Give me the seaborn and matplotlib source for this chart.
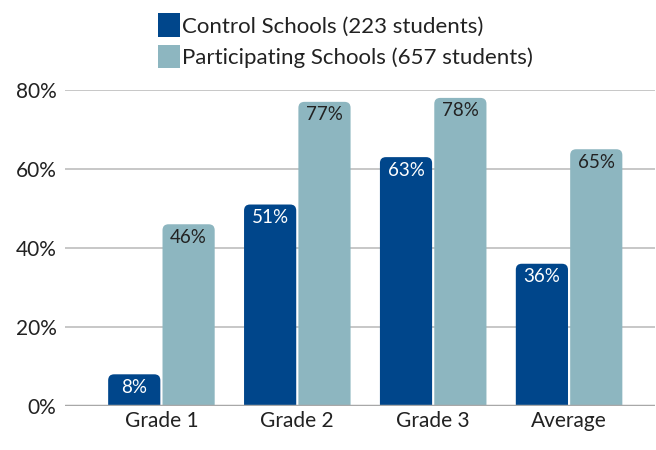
import pandas as pd
import seaborn as sns
import matplotlib.pyplot as plt
from matplotlib.patches import FancyBboxPatch, Patch

# data
grades = ["Grade 1", "Grade 2", "Grade 3", "Average"]
control = [8, 51, 63, 36]
participating = [46, 77, 78, 65]
series = ["Control Schools (223 students)", "Participating Schools (657 students)"]
colors = ["#00468b", "#8db6c0"]
text_colors = ["white", "#222222"]

df = pd.DataFrame({
    "grade": grades * 2,
    "value": control + participating,
    "group": [series[0]] * 4 + [series[1]] * 4,
})

sns.set_style("white")
plt.rcParams["font.family"] = ["Lato", "DejaVu Sans"]

fig = plt.figure(figsize=(6.56, 4.5), dpi=100)
ax = fig.add_axes([0.099, 0.098, 0.899, 0.702])

sns.barplot(data=df, x="grade", y="value", hue="group", palette=colors,
            width=0.8, gap=0.04, ax=ax, legend=False, zorder=2)

ax.set_ylim(0, 80)
ax.set_xlim(-0.71, 3.63)

# pixel -> data conversions for rounding top corners
fig.canvas.draw()
x_per_px = (ax.get_xlim()[1] - ax.get_xlim()[0]) / ax.bbox.width
y_per_px = (ax.get_ylim()[1] - ax.get_ylim()[0]) / ax.bbox.height
r = 6 * x_per_px
aspect = y_per_px / x_per_px

bars = list(ax.patches)
for i, p in enumerate(bars):
    s = i // 4
    x, w, h = p.get_x(), p.get_width(), p.get_height()
    p.set_visible(False)
    rb = FancyBboxPatch((x, -8 * y_per_px), w, h + 8 * y_per_px,
                        boxstyle=f"round,pad=0,rounding_size={r}",
                        mutation_aspect=aspect, fc=colors[s], ec="none",
                        zorder=2)
    ax.add_patch(rb)
    ax.text(x + w / 2, h - 13 * y_per_px, f"{h:.0f}%", ha="center", va="center",
            color=text_colors[s], fontsize=13.5, zorder=3)

ax.set_yticks([0, 20, 40, 60, 80])
ax.set_yticklabels([f"{v}%" for v in [0, 20, 40, 60, 80]])
ax.grid(axis="y", color="#bdbdbd", lw=1.2, zorder=0)
ax.axhline(0, color="#a8a8a8", lw=2.5, zorder=4)
ax.tick_params(axis="both", length=0, labelsize=15, labelcolor="#222222")
ax.tick_params(axis="y", pad=6)
ax.tick_params(axis="x", pad=4)
ax.set_xlabel("")
ax.set_ylabel("")
sns.despine(ax=ax, left=True, bottom=True)

handles = [Patch(fc=c, ec="none") for c in colors]
fig.legend(handles, series, loc="upper left", bbox_to_anchor=(0.228, 0.99),
           borderaxespad=0, frameon=False, fontsize=16, handlelength=0.95,
           handleheight=1.25, handletextpad=0.1, labelspacing=0.35,
           labelcolor="#222222")

fig.savefig("out.png", dpi=100)
